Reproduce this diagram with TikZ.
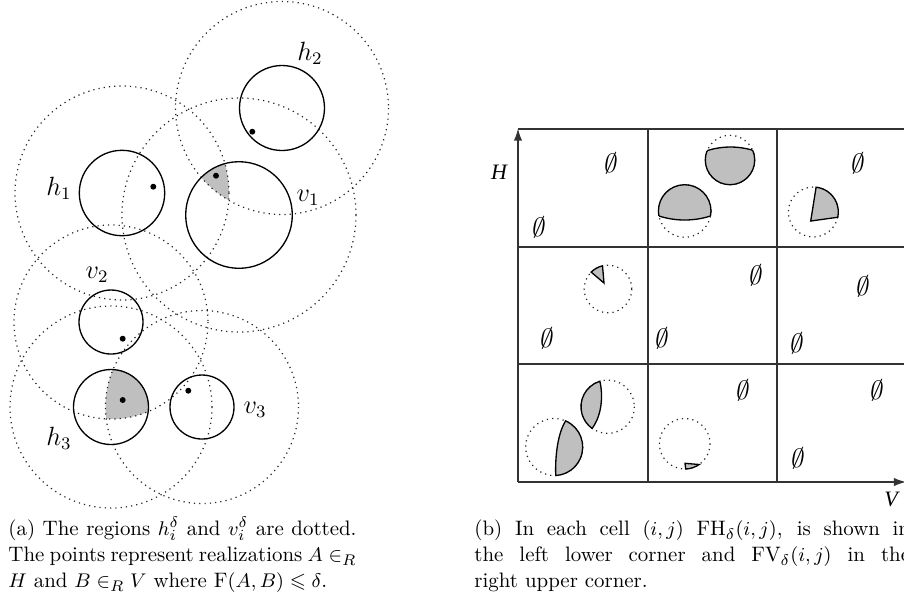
\documentclass[tikz,border=0pt]{standalone}
\usepackage{amsmath,amssymb}
\usepackage{fontspec}
\newfontfamily\figserif{Liberation Serif}
\usetikzlibrary{arrows.meta}
\newcommand{\emptyat}[2]{%
  \begin{scope}[shift={#1}, xslant=0.15]
    \node[emptysym, transform shape] (#2) at (0,0) {$\emptyset$};
  \end{scope}}
\begin{document}
\begin{tikzpicture}[x=0.4545pt, y=-0.4545pt,
  solidc/.style={line width=0.6pt},
  dotc/.style={line width=0.55pt, dash pattern=on 0.55pt off 1.85pt, black!85},
  greyfill/.style={fill=black!25},
  realpt/.style={circle, fill=black, inner sep=0pt, minimum size=2.7pt},
  cirlabel/.style={font=\fontsize{12}{14}\selectfont, inner sep=0pt},
  gridln/.style={line width=0.6pt, black!80},
  emptysym/.style={font=\fontsize{11.5}{13}\selectfont, inner sep=0pt},
  axlabel/.style={font=\figserif\itshape\fontsize{10}{12}\selectfont, inner sep=0pt},
  captext/.style={font=\fontsize{9.5}{11.8}\selectfont, inner sep=0pt, anchor=base west},
  axarrow/.style={line width=0.6pt, black!80, -{Latex[length=5.5pt, width=3.8pt]}},
]
\useasboundingbox (0,0) rectangle (904,609);

% ---------------- left panel ----------------
\coordinate (ch1) at (122,193);
\coordinate (ch2) at (282,108);
\coordinate (cv1) at (239,215);
\coordinate (cv2) at (111,322);
\coordinate (ch3) at (111,407);
\coordinate (cv3) at (202,407);

\begin{scope}
  \clip (cv1) circle (53.3);
  \clip (ch1) circle (107);
  \fill[greyfill] (ch2) circle (106.5);
\end{scope}
\begin{scope}
  \clip (ch3) circle (37.5);
  \clip (cv3) circle (96.5);
  \fill[greyfill] (cv2) circle (97);
\end{scope}

\foreach \c/\r in {ch1/107, ch2/106.5, cv1/117, cv2/97, ch3/101, cv3/96.5}
  \draw[dotc] (\c) circle (\r);
\foreach \c/\r in {ch1/42.7, ch2/42.5, cv1/53.3, cv2/32, ch3/37.5, cv3/32}
  \draw[solidc] (\c) circle (\r);

\node[realpt] (ph2) at (252.3,131.7) {};
\node[realpt] (ph1) at (153.3,186.7) {};
\node[realpt] (pv1) at (216,175.7) {};
\node[realpt] (pv2) at (122.7,338.7) {};
\node[realpt] (ph3) at (122.7,400) {};
\node[realpt] (pv3) at (188.3,390.7) {};

\node[cirlabel] (lh2) at (310,53) {$h_2$};
\node[cirlabel] (lh1) at (59,188) {$h_1$};
\node[cirlabel] (lv1) at (308,198) {$v_1$};
\node[cirlabel] (lv2) at (97,275) {$v_2$};
\node[cirlabel] (lh3) at (59,438) {$h_3$};
\node[cirlabel] (lv3) at (255,410) {$v_3$};

% ---------------- right panel ----------------
\coordinate (o) at (518,482);
\coordinate (ytop) at (518,128.5);
\coordinate (xend) at (906,482);
\foreach \x in {648,777,907} \draw[gridln] (\x,129) -- (\x,482);
\foreach \y in {129,247,364} \draw[gridln] (518,\y) -- (910,\y);
\draw[axarrow] (o) -- (ytop);
\draw[axarrow] (o) -- (xend);
\node[axlabel] (lH) at (499,172) {H};
\node[axlabel] (lV) at (891,499) {V};

% top-middle upper shape
\coordinate (c1) at (730,160);
\coordinate (d1) at (730.5,224);
\draw[dotc] (c1) circle (24.7);
\begin{scope}
  \clip (d1) circle (77);
  \fill[greyfill] (c1) circle (24.7);
  \draw[solidc] (c1) circle (24.7);
\end{scope}
\begin{scope}
  \clip (c1) circle (24.7);
  \draw[solidc] (d1) circle (77);
\end{scope}

% top-middle lower shape
\coordinate (c2) at (684.7,211);
\coordinate (d2) at (684.7,135.5);
\draw[dotc] (c2) circle (26.3);
\begin{scope}
  \clip (d2) circle (84.5);
  \fill[greyfill] (c2) circle (26.3);
  \draw[solidc] (c2) circle (26.3);
\end{scope}
\begin{scope}
  \clip (c2) circle (26.3);
  \draw[solidc] (d2) circle (84.5);
\end{scope}

% top-right shape
\coordinate (c3) at (813.3,212);
\draw[dotc] (c3) circle (25);
\draw[solidc, greyfill] (810.7,221) -- (816.1,187.2)
  arc[start angle=-83.6, end angle=12, radius=25] -- cycle;

% middle-left shape
\coordinate (c4) at (608,289);
\draw[dotc] (c4) circle (23.8);
\draw[solidc, greyfill] (604,283) -- (602.5,265.8)
  arc[start angle=-103.4, end angle=-135, radius=23.8] -- cycle;

% bottom-left upper shape
\coordinate (c5) at (607.7,406.7);
\draw[dotc] (c5) circle (26.7);
\draw[solidc, greyfill] (599.9,381.2)
  arc[start angle=-107, end angle=-234.3, radius=26.7]
  .. controls (600,418) and (604,400) .. (599.9,381.2) -- cycle;

% bottom-left lower shape
\coordinate (c6) at (554.2,447);
\draw[dotc] (c6) circle (28.5);
\draw[solidc, greyfill] (565.6,420.9)
  arc[start angle=-66.4, end angle=86.9, radius=28.5]
  .. controls (555,455) and (558,433) .. (565.6,420.9) -- cycle;

% bottom-middle shape
\coordinate (c7) at (684.7,443.7);
\draw[dotc] (c7) circle (25.3);
\draw[solidc, greyfill] (685,463.3) -- (699.1,464.5)
  arc[start angle=55.2, end angle=87.7, radius=25.3] -- cycle;

% empty sets
\emptyat{(611,163)}{e1}
\emptyat{(539,227)}{e2}
\emptyat{(858,163)}{e3}
\emptyat{(547,338)}{e4}
\emptyat{(756,275)}{e5}
\emptyat{(662,338)}{e6}
\emptyat{(863,286)}{e7}
\emptyat{(797,343)}{e8}
\emptyat{(743,390)}{e9}
\emptyat{(877,390)}{e10}
\emptyat{(798,458)}{e11}

% ---------------- captions ----------------
\node[captext] (capa) at (8,535.5) {\parbox[t]{158.2pt}{%
\makebox[158.2pt][s]{(a) The regions $h_i^\delta$ and $v_i^\delta$ are dotted.}\\
\makebox[158.2pt][s]{The points represent realizations $A \in_R$}\\
$H$ and $B \in_R V$ where $\mathrm{F}(A,B) \leqslant \delta$.}};
\node[captext] (capb) at (474,535.5) {\parbox[t]{198pt}{%
\makebox[198pt][s]{(b) In each cell $(i,j)$ $\mathrm{FH}_\delta(i,j)$, is shown in}\\
\makebox[198pt][s]{the left lower corner and $\mathrm{FV}_\delta(i,j)$ in the}\\
right upper corner.}};
\end{tikzpicture}
\end{document}
